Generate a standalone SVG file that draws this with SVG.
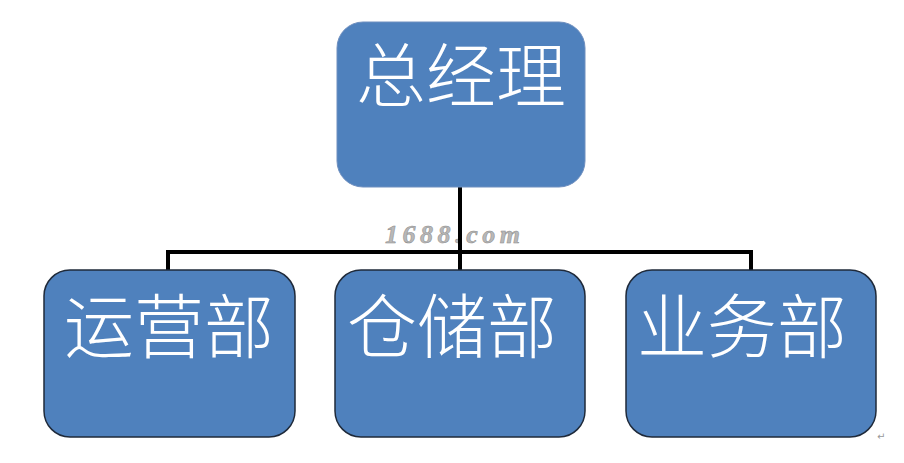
<svg xmlns="http://www.w3.org/2000/svg" width="904" height="463" viewBox="0 0 904 463">
<style>
.box{fill:#4F81BD;stroke:#1F2A3A;stroke-width:1.5}
.top{fill:#4F81BD;stroke:#6F8FBF;stroke-width:1}
.lbl{font-family:"Noto Sans CJK SC","Noto Sans",sans-serif;font-size:70px;font-weight:300;fill:#FFFFFF}
.wire{fill:none;stroke:#000000;stroke-width:4}
.wm{font-family:"Liberation Serif",serif;font-style:italic;font-weight:bold;font-size:26px;fill:#B8B8B8;stroke:#8A8A8A;stroke-width:0.5}
</style>
<rect width="904" height="463" fill="#FFFFFF"/>
<text class="wm" x="385" y="243" textLength="135" lengthAdjust="spacing">1688.com</text>
<g id="connectors">
<path class="wire" d="M460 187 V252 M168 252 H753 M168 250 V272 M460 250 V272 M751 250 V272"/>
</g>
<g id="gm">
<rect class="top" x="337" y="22" width="248" height="165" rx="26"/>
<text class="lbl" x="356" y="102">总经理</text>
</g>
<g id="yy">
<rect class="box" x="44" y="270" width="251" height="167" rx="26"/>
<text class="lbl" x="64" y="353">运营部</text>
</g>
<g id="cc">
<rect class="box" x="335" y="270" width="250" height="167" rx="26"/>
<text class="lbl" x="347" y="353">仓储部</text>
</g>
<g id="yw">
<rect class="box" x="626" y="270" width="250" height="167" rx="26"/>
<text class="lbl" x="637" y="353">业务部</text>
</g>
<text x="877" y="440" font-family="DejaVu Sans,sans-serif" font-size="10" fill="#999999">↵</text>
</svg>
